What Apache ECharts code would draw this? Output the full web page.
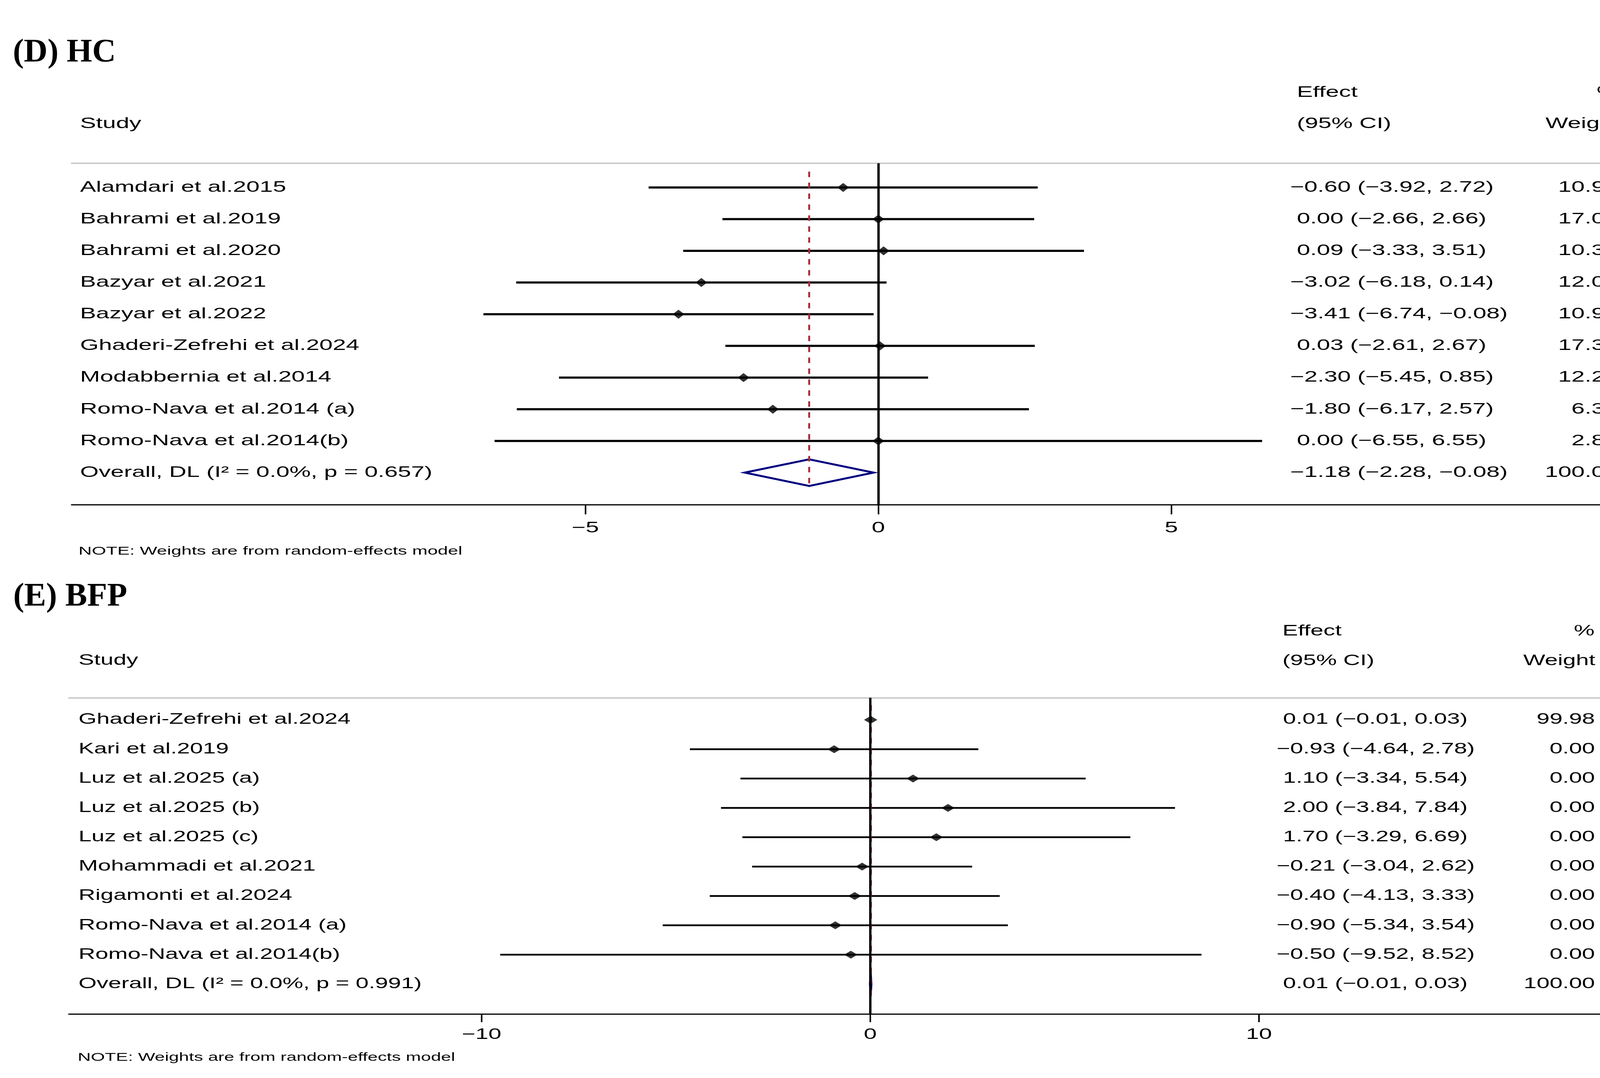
<!DOCTYPE html>
<html>
<head>
<meta charset="utf-8">
<title>Forest plots: HC and BFP</title>
<script src="https://cdn.jsdelivr.net/npm/echarts@6.0.0/dist/echarts.min.js"></script>
<style>
  html, body { margin: 0; padding: 0; background: #fff; }
  #chart { width: 4263px; height: 2760px; }
</style>
</head>
<body>
<div id="chart"></div>
<script>
// (D) HC - last entry is the pooled estimate
var hcStudies = [
    'Alamdari et al.2015', 'Bahrami et al.2019', 'Bahrami et al.2020',
    'Bazyar et al.2021', 'Bazyar et al.2022', 'Ghaderi-Zefrehi et al.2024',
    'Modabbernia et al.2014', 'Romo-Nava et al.2014 (a)', 'Romo-Nava et al.2014(b)',
    'Overall, DL (I\u00b2 = 0.0%, p = 0.657)'
];
var hcEffect = [-0.60, 0.00, 0.09, -3.02, -3.41, 0.03, -2.30, -1.80, 0.00, -1.18];
var hcLower  = [-3.92, -2.66, -3.33, -6.18, -6.74, -2.61, -5.45, -6.17, -6.55, -2.28];
var hcUpper  = [2.72, 2.66, 3.51, 0.14, -0.08, 2.67, 0.85, 2.57, 6.55, -0.08];
var hcWeight = [10.95, 17.05, 10.33, 12.08, 10.91, 17.34, 12.20, 6.32, 2.82, 100.00];
var hcTicks  = [-5, 0, 5];

// (E) BFP
var bfpStudies = [
    'Ghaderi-Zefrehi et al.2024', 'Kari et al.2019', 'Luz et al.2025 (a)',
    'Luz et al.2025 (b)', 'Luz et al.2025 (c)', 'Mohammadi et al.2021',
    'Rigamonti et al.2024', 'Romo-Nava et al.2014 (a)', 'Romo-Nava et al.2014(b)',
    'Overall, DL (I\u00b2 = 0.0%, p = 0.991)'
];
var bfpEffect = [0.01, -0.93, 1.10, 2.00, 1.70, -0.21, -0.40, -0.90, -0.50, 0.01];
var bfpLower  = [-0.01, -4.64, -3.34, -3.84, -3.29, -3.04, -4.13, -5.34, -9.52, -0.01];
var bfpUpper  = [0.03, 2.78, 5.54, 7.84, 6.69, 2.62, 3.33, 3.54, 8.52, 0.03];
var bfpWeight = [99.98, 0.00, 0.00, 0.00, 0.00, 0.00, 0.00, 0.00, 0.00, 100.00];
var bfpTicks  = [-10, 0, 10];

var SANS = '"Liberation Sans", Arial, sans-serif';
var SERIF = '"Liberation Serif", "Times New Roman", serif';
var STRETCH = 1.57;   // the Stata text in the figure is stretched sideways

var chart = echarts.init(document.getElementById('chart'));

function fmt(v) {
    return (v < 0 ? '\u2212' : '') + Math.abs(v).toFixed(2);
}
function ciText(e, lo, hi) {
    // non-negative estimates get a leading blank, as in the Stata table
    return (e < 0 ? '' : ' ') + fmt(e) + ' (' + fmt(lo) + ', ' + fmt(hi) + ')';
}
function tickText(v) {
    return v < 0 ? '\u2212' + (-v) : String(v);
}
function txt(x, y, str, align, size) {
    return {
        type: 'text', x: x, y: y, scaleX: STRETCH,
        style: {text: str, fontSize: size, fontFamily: SANS, fill: '#000',
                align: align, verticalAlign: 'middle'}
    };
}

var panels = [
    {
        studies: hcStudies, effect: hcEffect, lower: hcLower, upper: hcUpper,
        weight: hcWeight, ticks: hcTicks,
        grid: {left: 183, top: 418, width: 4029, height: 874},
        xRange: [-13.77, 13.09], yRange: [-0.764, 10.01],
        labelX: 205, ciX: 3303, weightX: 4142, font: 39,
        ciWidth: 5.5, marker: [30, 23], tickLen: 25, tickGap: 60
    },
    {
        studies: bfpStudies, effect: bfpEffect, lower: bfpLower, upper: bfpUpper,
        weight: bfpWeight, ticks: bfpTicks,
        grid: {left: 176, top: 1786.5, width: 3971.5, height: 809.5},
        xRange: [-20.62, 19.29], yRange: [-0.752, 10.02],
        labelX: 201, ciX: 3268, weightX: 4083, font: 38,
        ciWidth: 4.5, marker: [34, 20], tickLen: 21, tickGap: 54
    }
];

var option = {
    animation: false,
    backgroundColor: '#fff',
    grid: [],
    xAxis: [],
    yAxis: [],
    series: [],
    graphic: []
};

panels.forEach(function (p, gi) {
    var last = p.studies.length - 1;
    var bottomAxis = option.xAxis.length;
    option.grid.push(p.grid);
    option.xAxis.push({
        gridIndex: gi, type: 'value', min: p.xRange[0], max: p.xRange[1],
        position: 'bottom',
        axisLine: {show: true, onZero: false, lineStyle: {color: '#000', width: 3}},
        axisTick: {show: true, customValues: p.ticks, length: p.tickLen,
                   lineStyle: {color: '#000', width: 4}},
        axisLabel: {show: false},
        splitLine: {show: false}
    });
    // grey rule under the column headers
    option.xAxis.push({
        gridIndex: gi, type: 'value', min: p.xRange[0], max: p.xRange[1],
        position: 'top',
        axisLine: {show: true, onZero: false, lineStyle: {color: '#c6c6c6', width: 3.5}},
        axisTick: {show: false}, axisLabel: {show: false}, splitLine: {show: false}
    });
    option.yAxis.push({
        gridIndex: gi, type: 'value', inverse: true,
        min: p.yRange[0], max: p.yRange[1], show: false
    });

    var rowData = p.effect.map(function (e, i) { return [e, i]; });

    // table text, CI whiskers and the pooled diamond
    option.series.push({
        type: 'custom', xAxisIndex: bottomAxis, yAxisIndex: gi, z: 2, clip: false,
        silent: true,
        data: rowData,
        renderItem: function (params, api) {
            var i = params.dataIndex;
            var y = api.coord([0, i])[1];
            var a = api.coord([p.lower[i], i]);
            var b = api.coord([p.upper[i], i]);
            var kids = [
                txt(p.labelX, y, p.studies[i], 'left', p.font),
                txt(p.ciX, y, ciText(p.effect[i], p.lower[i], p.upper[i]), 'left', p.font),
                txt(p.weightX, y, p.weight[i].toFixed(2), 'right', p.font)
            ];
            if (i < last) {
                kids.push({
                    type: 'line',
                    shape: {x1: a[0], y1: y, x2: b[0], y2: y},
                    style: {stroke: '#000', lineWidth: p.ciWidth}
                });
            } else {
                var t = api.coord([p.effect[i], i - 0.42]);
                var d = api.coord([p.effect[i], i + 0.42]);
                kids.push({
                    type: 'polygon',
                    shape: {points: [a, t, b, d]},
                    style: {fill: 'none', stroke: '#000080', lineWidth: 5, lineJoin: 'miter'}
                });
            }
            return {type: 'group', children: kids};
        }
    });

    // dashed line at the pooled estimate
    option.series.push({
        type: 'line', xAxisIndex: bottomAxis, yAxisIndex: gi, z: 3, data: [],
        markLine: {
            silent: true, symbol: 'none', label: {show: false},
            lineStyle: {color: '#a8303a', width: 5, type: [14, 14]},
            data: [[{coord: [p.effect[last], -0.5]}, {coord: [p.effect[last], last + 0.5]}]]
        }
    });

    // line of no effect
    option.series.push({
        type: 'line', xAxisIndex: bottomAxis, yAxisIndex: gi, z: 4, data: [],
        markLine: {
            silent: true, symbol: 'none', label: {show: false},
            lineStyle: {color: '#000', width: 6, type: 'solid'},
            data: [{xAxis: 0}]
        }
    });

    // study point estimates
    option.series.push({
        type: 'scatter', xAxisIndex: bottomAxis, yAxisIndex: gi, z: 5, silent: true,
        symbol: 'diamond', symbolSize: p.marker,
        itemStyle: {color: '#000'},
        data: rowData.slice(0, last)
    });

    // tick labels (stretched like the rest of the Stata text)
    option.series.push({
        type: 'custom', xAxisIndex: bottomAxis, yAxisIndex: gi, z: 2, clip: false,
        silent: true,
        data: p.ticks.map(function (t) { return [t, 0]; }),
        renderItem: function (params, api) {
            var v = api.value(0);
            var x = api.coord([v, 0])[0];
            var cs = params.coordSys;
            return txt(x, cs.y + cs.height + p.tickGap, tickText(v), 'center', p.font);
        }
    });
});

function head(x, y, str, align, size) {
    return {
        type: 'text', x: x, y: y, scaleX: STRETCH, silent: true,
        style: {text: str, fontSize: size, fontFamily: SANS, fill: '#000',
                align: align, verticalAlign: 'middle'}
    };
}
function title(x, y, str) {
    return {
        type: 'text', x: x, y: y, silent: true,
        style: {text: str, fontSize: 84, fontFamily: SERIF, fontWeight: 'bold',
                fill: '#000', align: 'left', verticalAlign: 'middle'}
    };
}

option.graphic = [
    title(33, 136, '(D) HC'),
    head(205, 317, 'Study', 'left', 39),
    head(3320, 237, 'Effect', 'left', 39),
    head(3320, 317, '(95% CI)', 'left', 39),
    head(4142, 237, '%', 'right', 39),
    head(4146, 317, 'Weight', 'right', 39),
    head(201, 1412, 'NOTE: Weights are from random-effects model', 'left', 30),

    title(34, 1529, '(E) BFP'),
    head(201, 1692, 'Study', 'left', 38),
    head(3283, 1617, 'Effect', 'left', 38),
    head(3283, 1693, '(95% CI)', 'left', 38),
    head(4082, 1617, '%', 'right', 38),
    head(4084, 1693, 'Weight', 'right', 38),
    head(199, 2708, 'NOTE: Weights are from random-effects model', 'left', 29.5)
];

chart.setOption(option);
</script>
</body>
</html>
